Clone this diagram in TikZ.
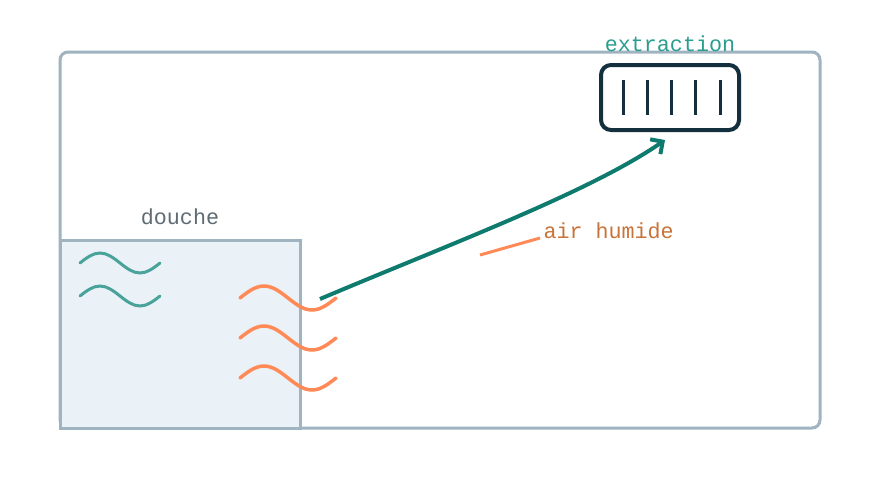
\documentclass[tikz,border=0pt]{standalone}
\usepackage{fontspec}
\setmonofont{Liberation Mono}
\usepackage{tikz}
\usetikzlibrary{arrows,arrows.meta,positioning}

\definecolor{wallgray}{HTML}{A0B3C0}
\definecolor{showerfill}{HTML}{EAF2F7}
\definecolor{labelgray}{HTML}{5F6B73}
\definecolor{watercol}{HTML}{4AA39A}
\definecolor{steamcol}{HTML}{FF8A57}
\definecolor{flowcol}{HTML}{0F7B6F}
\definecolor{ventcol}{HTML}{14303F}
\definecolor{ventlbl}{HTML}{2A9D8F}
\definecolor{humidlbl}{HTML}{C8733A}

\tikzstyle{wall} = [draw=wallgray, line width=3pt, rounded corners=8pt]
\tikzstyle{showerbox} = [draw=wallgray, fill=showerfill, line width=3pt]
\tikzstyle{ventbox} = [draw=ventcol, line width=4pt, rounded corners=10pt,
    rectangle, minimum width=138pt, minimum height=65pt, inner sep=0pt]
\tikzstyle{txt} = [font=\ttfamily\fontsize{21.7}{24}\selectfont]
\tikzstyle{water} = [draw=watercol, line width=3pt, line cap=round]
\tikzstyle{steam} = [draw=steamcol, line width=3.5pt, line cap=round]
\tikzstyle{flow} = [draw=flowcol, line width=4pt,
    -{Straight Barb[length=9pt,width=18pt,line width=4pt]}]
\tikzstyle{leader} = [draw=steamcol, line width=3pt]

\begin{document}
\begin{tikzpicture}[x=1pt,y=-1pt]
\useasboundingbox (0,0) rectangle (880,480);
% room and shower
\draw[wall] (60,52) rectangle (820,428);
\draw[showerbox] (60,240) rectangle (300,428);
\node[txt, text=labelgray, anchor=base] (douche) at (180,224) {douche};

% water in the shower
\foreach \y in {263,296}
    \draw[water] (80,\y) sin (100,\y-10) cos (120,\y) sin (140,\y+10) cos (160,\y);

% humid air leaving
\foreach \y in {298,338,378}
    \draw[steam] (240,\y) sin (264,\y-12) cos (288,\y) sin (312,\y+12) cos (336,\y);

% extraction
\node[ventbox] (vent) at (670,97.5) {};
\foreach \i in {0,...,4}
    \draw[ventcol, line width=3pt] (623+24.25*\i,80) -- (623+24.25*\i,115);
\node[txt, text=ventlbl, anchor=base] (ventname) at (670,51) {extraction};

% flow to the extraction
\coordinate (plume) at (320,299);
\coordinate (intake) at (665,140);
\draw[flow] (plume) .. controls (450,244) and (590,192) .. (intake);

\node[txt, text=humidlbl, anchor=base west] (airlbl) at (540,238) {air humide};
\coordinate (leadstart) at (480,255);
\draw[leader] (leadstart) -- (airlbl.base west);
\end{tikzpicture}
\end{document}
